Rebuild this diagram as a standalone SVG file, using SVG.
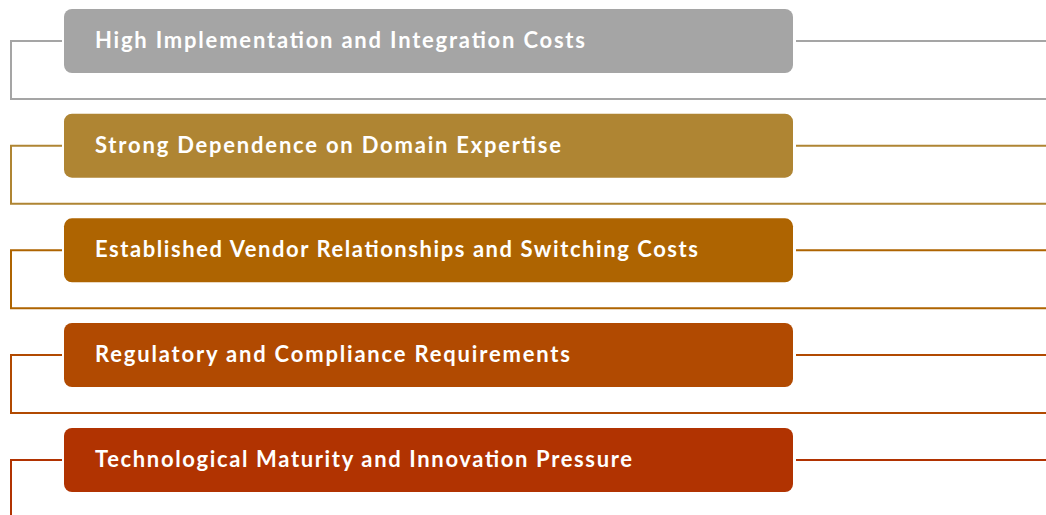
<svg xmlns="http://www.w3.org/2000/svg" width="1046" height="515" viewBox="0 0 1046 515">
<style>
.box{stroke:none}
.lbl{font-family:Lato,"Liberation Sans",sans-serif;font-weight:bold;font-size:22px;fill:#ffffff}
.ln{fill:none;stroke-width:2}
</style>
<rect width="1046" height="515" fill="#ffffff"/>
<g id="connectors">
<path class="ln" stroke="#A5A5A5" d="M62 41H11V99H1046M796 41H1046"/>
<path class="ln" stroke="#AF8533" d="M62 145.7H11V203.7H1046M796 145.7H1046"/>
<path class="ln" stroke="#AE6401" d="M62 250.3H11V308.3H1046M796 250.3H1046"/>
<path class="ln" stroke="#B14A01" d="M62 355H11V413H1046M796 355H1046"/>
<path class="ln" stroke="#B13301" d="M62 460H11V515M796 460H1046"/>
</g>
<g id="n1"><rect class="box" x="64" y="9" width="729" height="64" rx="8" fill="#A5A5A5"/><text class="lbl" x="95" y="48" textLength="490" lengthAdjust="spacing">High Implementation and Integration Costs</text></g>
<g id="n2"><rect class="box" x="64" y="113.7" width="729" height="64" rx="8" fill="#AF8533"/><text class="lbl" x="95" y="152.7" textLength="466" lengthAdjust="spacing">Strong Dependence on Domain Expertise</text></g>
<g id="n3"><rect class="box" x="64" y="218.3" width="729" height="64" rx="8" fill="#AE6401"/><text class="lbl" x="95" y="257.3" textLength="603" lengthAdjust="spacing">Established Vendor Relationships and Switching Costs</text></g>
<g id="n4"><rect class="box" x="64" y="323" width="729" height="64" rx="8" fill="#B14A01"/><text class="lbl" x="95" y="362" textLength="475" lengthAdjust="spacing">Regulatory and Compliance Requirements</text></g>
<g id="n5"><rect class="box" x="64" y="428" width="729" height="64" rx="8" fill="#B13301"/><text class="lbl" x="95" y="467" textLength="537" lengthAdjust="spacing">Technological Maturity and Innovation Pressure</text></g>
</svg>
